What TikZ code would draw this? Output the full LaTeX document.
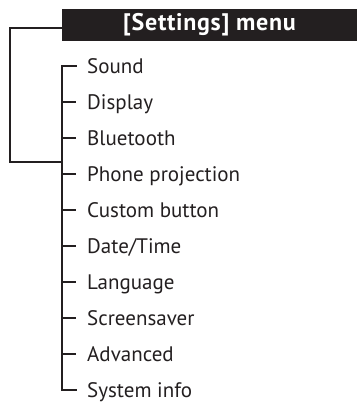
\documentclass[tikz,border=0pt]{standalone}
\usepackage{fontspec}
\setmainfont{PT Sans}
\newfontfamily\hdrfont[LetterSpace=3]{PT Sans}
\definecolor{ink}{HTML}{231F20}
\begin{document}
\begin{tikzpicture}[x=1pt,y=1pt,
  conn/.style={draw=ink,line width=1.8pt,line join=miter,line cap=rect},
  item/.style={anchor=west,inner sep=0pt,text height=14.6pt,text depth=0pt,text=ink,font=\fontsize{21}{21}\selectfont},
  hdr/.style={fill=ink,text=white,inner sep=0pt,minimum width=295pt,minimum height=32pt,font=\hdrfont\fontsize{24}{24}\selectfont\bfseries}]
\useasboundingbox (0,0) rectangle (357,-403);
\node[hdr] (head) at (209.5,-25) {[Settings] menu};
\foreach \t [count=\i] in {Sound,Display,Bluetooth,Phone projection,Custom button,Date/Time,Language,Screensaver,Advanced,System info}{
  \node[item] (s\i) at (87,{-66-36*(\i-1)}) {\t};
}
\coordinate (j) at (62,-162);
\draw[conn] ([xshift=-11pt]s1.west) -- ([xshift=-25pt]s1.west) -- ([xshift=-25pt]s10.west) -- ([xshift=-11pt]s10.west);
\foreach \i in {2,...,9}{
  \draw[conn,line cap=butt] ([xshift=-25pt]s\i.west) -- ([xshift=-11pt]s\i.west);
}
\draw[conn] ([yshift=-3pt]head.west) -- ++(-52,0) |- (j);
\end{tikzpicture}
\end{document}
